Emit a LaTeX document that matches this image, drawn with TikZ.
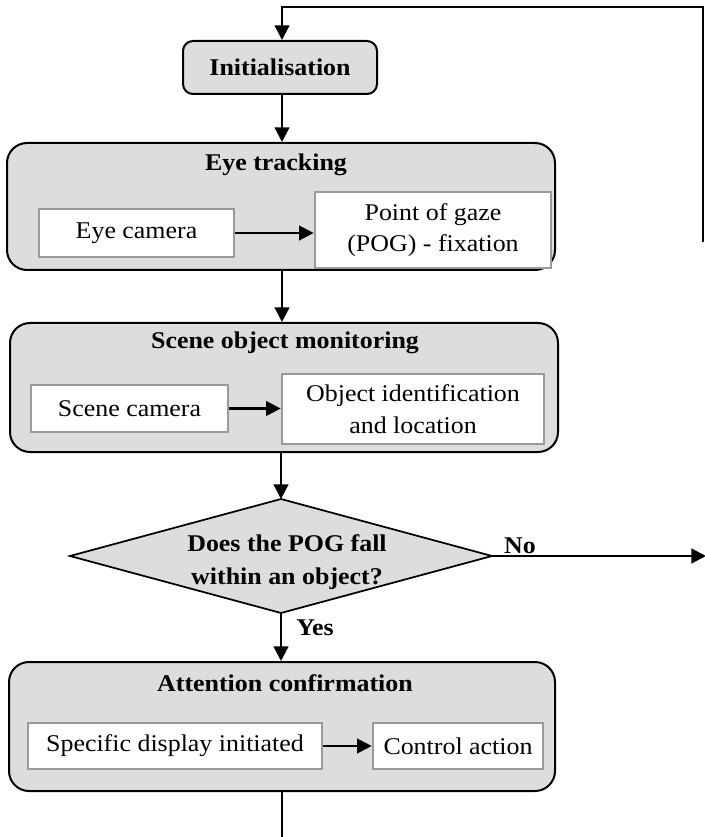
\documentclass[tikz,border=0pt]{standalone}
\usepackage{fontspec}
\setmainfont{Liberation Serif}[FakeStretch=1.08]
\usetikzlibrary{arrows.meta}
\definecolor{boxgray}{HTML}{DDDDDD}
\definecolor{innergray}{HTML}{9A9A9A}
\newcommand{\fsz}{\fontsize{18}{23.5}\selectfont}
\tikzset{
  outer/.style={draw=black, line width=1.5pt, fill=boxgray, rounded corners=15pt, inner sep=0pt},
  initbox/.style={draw=black, line width=1.5pt, fill=boxgray, rounded corners=7.5pt, inner sep=0pt, font=\fsz\bfseries},
  inner/.style={draw=innergray, line width=2pt, fill=white, inner sep=0pt, align=center, font=\fsz},
  ttl/.style={font=\fsz\bfseries, inner sep=0pt},
  lbl/.style={font=\fsz\bfseries, inner sep=0pt},
  conn/.style={line width=1.7pt},
  arr/.style={line width=1.7pt, -{Triangle[length=11pt,width=11pt]}},
}
\begin{document}
\begin{tikzpicture}[x=0.75pt, y=-0.75pt]
\useasboundingbox (0,0) rectangle (704,837);
% column
\coordinate (col) at (282,0);
% initialisation
\node[initbox, minimum width=145.5pt, minimum height=39.75pt] (init) at (280,67.5) {Initialisation};
% eye tracking
\node[outer, minimum width=411pt, minimum height=95.25pt] (eye) at (281,206.5) {};
\node[ttl] (eyet) at (276,165) {Eye tracking};
\node[inner, minimum width=146.25pt, minimum height=36pt] (eyecam) at (136.5,233) {Eye camera};
\node[inner, minimum width=177pt, minimum height=57pt] (pog) at (433,230) {Point of gaze\\(POG) - fixation};
% scene
\node[outer, minimum width=411pt, minimum height=96.75pt] (scene) at (284,387.5) {};
\node[ttl] (scenet) at (285,343) {Scene object monitoring};
\node[inner, minimum width=147.75pt, minimum height=35.25pt] (scam) at (129.5,408.5) {Scene camera};
\node[inner, minimum width=196.5pt, minimum height=52.5pt] (obj) at (413,409) {Object identification\\and location};
% decision
\coordinate (dtop) at (281,499);
\coordinate (dright) at (492,556);
\coordinate (dbot) at (281,613);
\coordinate (dleft) at (70,556);
\draw[line width=1.3pt, fill=boxgray] (dtop) -- (dright) -- (dbot) -- (dleft) -- cycle;
\node[align=center, inner sep=0pt, font=\fontsize{18}{25}\selectfont\bfseries] (dec) at (287,562) {Does the POG fall\\within an object?};
% attention
\node[outer, minimum width=409.5pt, minimum height=96.75pt] (att) at (282,726.5) {};
\node[ttl] (attt) at (285,683) {Attention confirmation};
\node[inner, minimum width=220.5pt, minimum height=34.5pt] (spec) at (175,746) {Specific display initiated};
\node[inner, minimum width=127.5pt, minimum height=34.5pt] (ctrl) at (458,746) {Control action};
% loop coordinates
\coordinate (rbot) at (703,242);
\coordinate (rtop) at (703,7);
\coordinate (ltop) at (282,7);
\coordinate (noend) at (706,556);
\coordinate (bend) at (282,845);
% labels
\node[lbl] (no) at (520,546) {No};
\node[lbl] (yes) at (315,628) {Yes};
% connectors
\draw[arr] (rbot) -- (rtop) -- (ltop) -- (init.north -| col);
\draw[arr] (init.south -| col) -- (eye.north -| col);
\draw[arr] (eyecam.east) -- (eyecam.east -| pog.west);
\draw[arr] (eye.south -| col) -- (scene.north -| col);
\draw[arr] (scam.east) -- (scam.east -| obj.west);
\draw[arr] (scene.south -| dtop) -- (dtop);
\draw[arr] (dright) -- (noend);
\draw[arr] (dbot) -- (att.north -| dbot);
\draw[arr] (spec.east) -- (spec.east -| ctrl.west);
\draw[conn] (att.south -| col) -- (bend);
\end{tikzpicture}
\end{document}
